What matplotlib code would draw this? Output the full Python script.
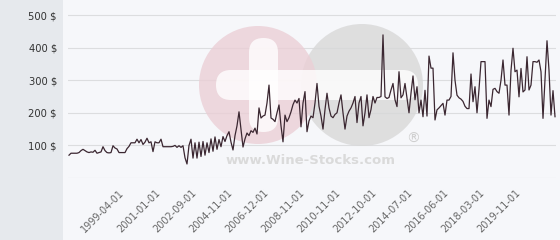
import matplotlib
matplotlib.use("Agg")
import matplotlib.pyplot as plt
import matplotlib.patches as patches
import matplotlib.transforms as mtransforms
import numpy as np

# prix moyen par vente (une valeur par vente, axe en catégories)
prices = [
    70, 76, 76, 76, 76, 78, 84, 88, 84, 80, 78, 80, 79, 85, 76, 78, 80, 96, 84, 78,
    77, 78, 99, 92, 89, 78, 78, 78, 78, 90, 97, 108, 108, 108, 119, 108, 118, 103, 110, 122,
    108, 111, 81, 111, 108, 108, 119, 96, 96, 96, 96, 96, 97, 100, 94, 99, 94, 99, 62, 43,
    100, 119, 61, 108, 61, 110, 66, 112, 70, 108, 78, 120, 82, 126, 88, 118, 96, 127, 112, 130,
    142, 110, 86, 130, 160, 203, 150, 95, 120, 138, 130, 145, 140, 153, 135, 215, 184, 190, 193, 230,
    285, 184, 180, 173, 200, 224, 160, 111, 193, 173, 185, 203, 225, 239, 230, 244, 157, 230, 265, 142,
    175, 190, 185, 230, 290, 220, 190, 150, 210, 260, 215, 190, 185, 195, 200, 230, 255, 200, 150, 190,
    205, 215, 230, 250, 170, 230, 250, 160, 200, 255, 185, 210, 250, 230, 247, 247, 250, 439, 249, 244,
    247, 270, 290, 240, 219, 326, 246, 255, 290, 244, 200, 260, 313, 240, 280, 200, 239, 188, 269, 190,
    374, 337, 337, 178, 209, 215, 222, 229, 193, 239, 239, 250, 384, 300, 254, 246, 242, 235, 220, 213,
    213, 319, 234, 280, 200, 272, 357, 357, 357, 183, 239, 219, 272, 275, 265, 260, 300, 362, 285, 285,
    193, 330, 398, 326, 331, 249, 336, 264, 270, 372, 270, 285, 357, 357, 355, 362, 326, 183, 300, 421,
    330, 193, 268, 188,
]

date_labels = [
    "1999-04-01", "2001-01-01", "2002-09-01", "2004-11-01", "2006-12-01",
    "2008-11-01", "2010-11-01", "2012-10-01", "2014-07-01", "2016-06-01",
    "2018-03-01", "2019-11-01",
]
first_label_idx = 23
label_step = 18

y_ticks = [0, 100, 200, 300, 400, 500]
y_tick_labels = ["", "100 $", "200 $", "300 $", "400 $", "500 $"]

W, H = 560, 240
fig = plt.figure(figsize=(W / 100, H / 100), dpi=100)
fig.patch.set_facecolor("#f6f7fa")

# bandeau gris à gauche
fig.patches.append(
    patches.Rectangle((0, 0), 63 / W, 1, transform=fig.transFigure,
                      facecolor="#e6e9ed", edgecolor="none", zorder=-1)
)

ax = fig.add_axes([68 / W, 1 - 178 / H, 488 / W, 173 / H])
ax.set_facecolor("none")

x = np.arange(len(prices))
ax.plot(x, prices, color="#3b2731", linewidth=0.9, zorder=5)

ax.set_xlim(-0.5, len(prices) - 0.5)
ax.set_ylim(0, 530.7)

ax.set_yticks(y_ticks)
ax.set_yticklabels(y_tick_labels)
ax.grid(axis="y", color="#dcdddf", linewidth=0.8, zorder=1)
ax.set_axisbelow(True)

tick_pos = [first_label_idx + label_step * k for k in range(len(date_labels))]
ax.set_xticks(tick_pos)
ax.set_xticklabels(date_labels, rotation=45, ha="right", va="top",
                   rotation_mode="anchor")
ax.tick_params(axis="x", length=0, pad=7, labelsize=7, labelcolor="#666666")
ax.tick_params(axis="y", length=0, pad=8, labelsize=7.2, labelcolor="#333333")
shift = mtransforms.ScaledTranslation(4 / 100, 0, fig.dpi_scale_trans)
for lab in ax.get_xticklabels():
    lab.set_transform(lab.get_transform() + shift)

for s in ax.spines.values():
    s.set_visible(False)

# filigrane (coordonnées en pixels depuis le haut)
tr = fig.dpi_scale_trans


def px(xp, yp):
    return xp / 100, (H - yp) / 100


wm = []
wm.append(patches.Circle(px(362, 85), 0.61, facecolor="#d8d8d8", edgecolor="none"))
wm.append(patches.Circle(px(258, 85), 0.59, facecolor="#ebcfd6", edgecolor="none"))
bx, by = px(216, 100)
wm.append(patches.FancyBboxPatch((bx, by), 2.02, 0.30,
                                 boxstyle="round,pad=0,rounding_size=0.15",
                                 facecolor="white", edgecolor="none"))
vx, vy = px(249, 132)
wm.append(patches.FancyBboxPatch((vx, vy), 0.29, 0.94,
                                 boxstyle="round,pad=0,rounding_size=0.145",
                                 facecolor="white", edgecolor="none"))
for p in wm:
    p.set_transform(tr)
    p.set_alpha(0.8)
    p.set_zorder(2)
    p.set_clip_on(False)
    ax.add_artist(p)

tx, ty = px(311, 161)
fig.text(tx * 100 / W, ty * 100 / H, "www.Wine-Stocks.com", ha="center",
         va="center", fontsize=9.5, fontweight="bold", color="#dadada", zorder=3)
rx, ry = px(413, 139)
fig.text(rx * 100 / W, ry * 100 / H, "®", ha="center", va="center",
         fontsize=10, color="#cfcfcf", zorder=3)

fig.savefig("out.png", dpi=100, facecolor=fig.get_facecolor())
